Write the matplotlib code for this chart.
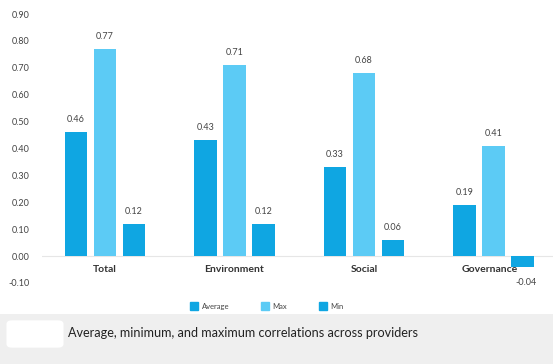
import matplotlib
matplotlib.use("Agg")
import matplotlib.pyplot as plt
import numpy as np
from matplotlib.patches import Rectangle, FancyBboxPatch

categories = ["Total", "Environment", "Social", "Governance"]
series_names = ["Average", "Max", "Min"]
average = [0.46, 0.43, 0.33, 0.19]
maximum = [0.77, 0.71, 0.68, 0.41]
minimum = [0.12, 0.12, 0.06, -0.04]
yticks = [-0.10, 0.00, 0.10, 0.20, 0.30, 0.40, 0.50, 0.60, 0.70, 0.80, 0.90]
caption = "Average, minimum, and maximum correlations across providers"

plt.rcParams["font.family"] = ["Lato", "DejaVu Sans"]
colors = ["#0fa6e2", "#5ccbf5", "#0fa6e2"]
text_col = "#444444"

fig = plt.figure(figsize=(5.53, 3.64), dpi=100)
fig.patches.append(Rectangle((0, 0), 1, 50/364, transform=fig.transFigure,
                             facecolor="#efefef", edgecolor="none", zorder=0))
fig.patches.append(FancyBboxPatch((12/553, 20/364), 46/553, 20/364,
                                  boxstyle="round,pad=0.01", transform=fig.transFigure,
                                  facecolor="white", edgecolor="none", zorder=1))
fig.text(68/553, 31/364, caption, fontsize=9.1, color="#222222",
         va="center", ha="left")

ax = fig.add_axes([42/553, 81/364, 511/553, 269/364])
x = np.arange(len(categories))
pitch = 0.224
width = 0.172
for i, (vals, name) in enumerate(zip([average, maximum, minimum], series_names)):
    pos = x + (i - 1) * pitch
    ax.bar(pos, vals, width, color=colors[i], label=name, zorder=2)
    for p, v in zip(pos, vals):
        if v >= 0:
            ax.text(p, v + 0.03, f"{v:.2f}", ha="center", va="bottom",
                    fontsize=6.5, color=text_col)
        else:
            ax.text(p + 0.03, -0.098, f"{v:.2f}", ha="center", va="center",
                    fontsize=6.5, color=text_col)

ax.axhline(0, color="#e6e6e6", lw=0.8, zorder=1)
ax.set_xlim(-0.486, 3.46)
ax.set_ylim(-0.10, 0.90)
ax.set_yticks(yticks)
ax.set_yticklabels([f"{t:.2f}" for t in yticks], fontsize=6.5, color=text_col)
ax.tick_params(axis="y", length=0, pad=9)
ax.set_xticks([])
for s in ax.spines.values():
    s.set_visible(False)
ax.set_facecolor("none")
for xi, c in zip(x, categories):
    ax.text(xi - 0.03 if c == "Governance" else xi, -0.05, c, ha="center", va="center",
            fontsize=7.5, fontweight="bold", color="#333333")

handles = [Rectangle((0, 0), 1, 1, color=c) for c in colors]
fig.legend(handles, series_names, loc="center", bbox_to_anchor=(267/553, 58/364),
           ncol=3, frameon=False, fontsize=5.5, handlelength=1.0, handleheight=1.1,
           columnspacing=4.2, handletextpad=0.5, labelcolor=text_col)

fig.savefig("out.png", dpi=100)
